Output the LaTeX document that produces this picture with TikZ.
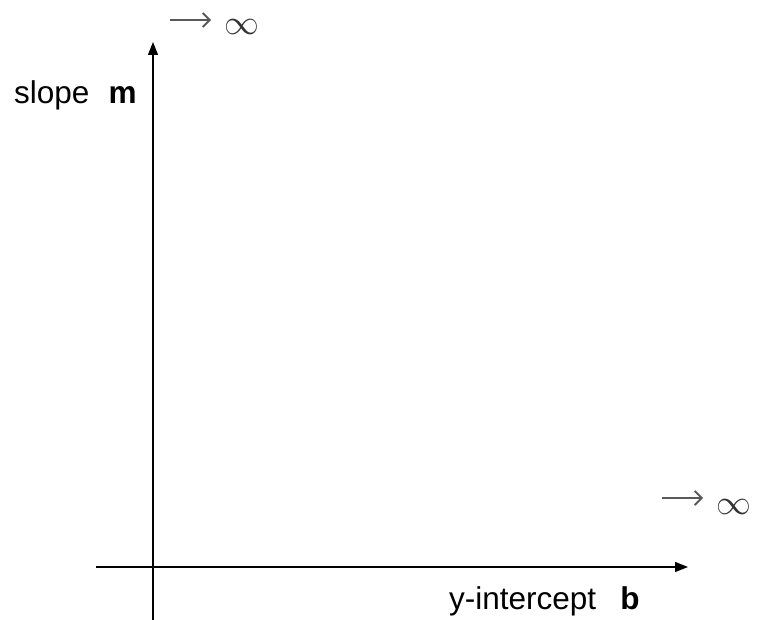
\documentclass[tikz,border=0pt]{standalone}
\usepackage{fontspec}
\setmainfont{Liberation Sans}
\usetikzlibrary{arrows.meta}
\begin{document}
\begin{tikzpicture}[x=1pt,y=-1pt,
  axis/.style={line width=1.3pt,-{Triangle[length=13pt,width=10pt]}},
  lbl/.style={font=\fontsize{31.5}{36}\selectfont,inner sep=0pt},
  inf/.style={inner sep=0pt,text=black!80},
  toarrow/.style={line width=1.8pt,black!65,-{Straight Barb[length=7pt,width=14pt,line width=1.8pt]}}]
\useasboundingbox (0,0) rectangle (759,620);
\coordinate (ybot) at (153,620);
\coordinate (ytop) at (153,42);
\coordinate (xl) at (96,567);
\coordinate (xr) at (688,567);
\draw[axis] (ybot) -- (ytop);
\draw[axis] (xl) -- (xr);
\node[lbl,anchor=west] (slope) at (14,95) {slope\hspace{19pt}\textbf{m}};
\node[lbl,anchor=west] (yint) at (449,601) {y-intercept\hspace{24pt}\textbf{b}};
\coordinate (a1) at (170,20);
\coordinate (a2) at (211,20);
\node[inf] (inftop) at (242,27) {\scalebox{1.4}{\fontsize{24.88}{28}\selectfont$\infty$}};
\coordinate (b1) at (662,498);
\coordinate (b2) at (703,498);
\node[inf] (infbot) at (734,507) {\scalebox{1.4}{\fontsize{24.88}{28}\selectfont$\infty$}};
\draw[toarrow] (a1) -- (a2);
\draw[toarrow] (b1) -- (b2);
\end{tikzpicture}
\end{document}
